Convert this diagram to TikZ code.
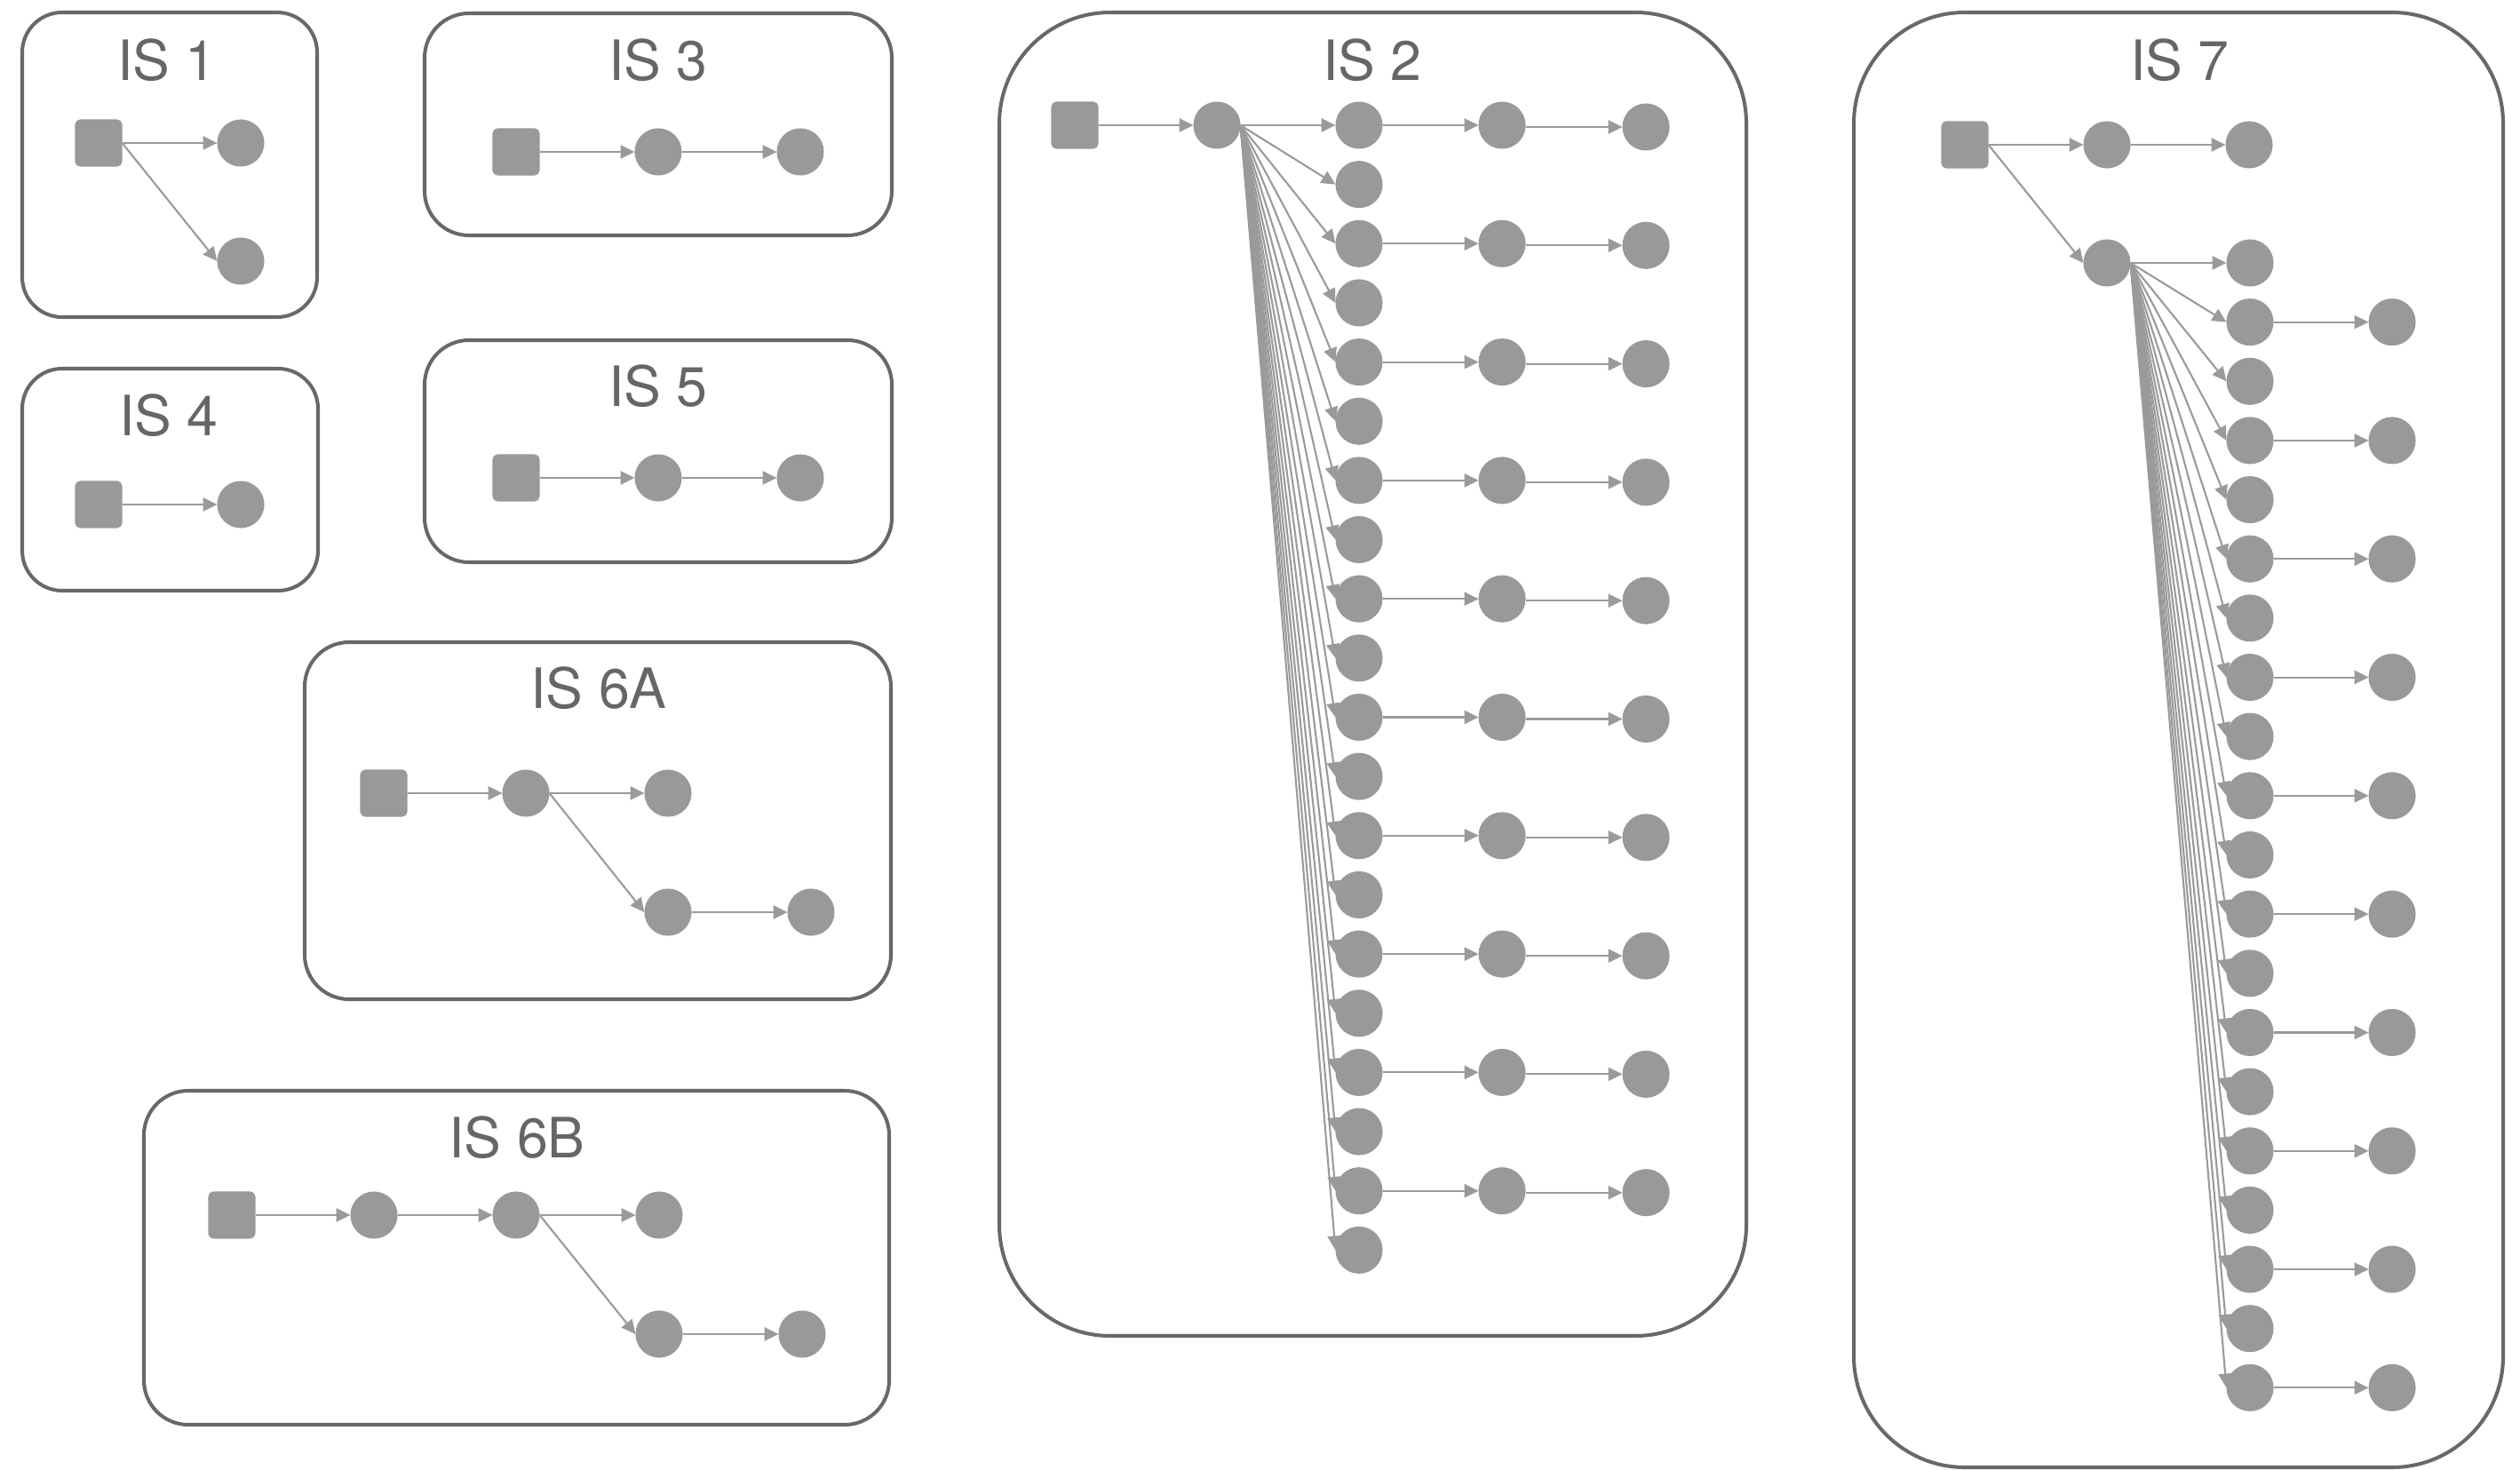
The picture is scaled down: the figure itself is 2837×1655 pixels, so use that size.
\documentclass[tikz,border=0pt]{standalone}
\usepackage{fontspec}
\setmainfont{TeX Gyre Heros}
\usetikzlibrary{arrows.meta}
\definecolor{framegray}{HTML}{686868}
\definecolor{textgray}{HTML}{666666}
\definecolor{nodegray}{HTML}{999999}
\definecolor{linkgray}{HTML}{9A9A9A}
\begin{document}
\begin{tikzpicture}[x=0.01cm,y=-0.01cm,
  groupframe/.style={draw=framegray, line width=1.15pt},
  grouptitle/.style={text=textgray, inner sep=0pt, font=\fontsize{17.8}{20}\selectfont},
  dot/.style={circle, fill=nodegray, inner sep=0pt, outer sep=0pt, minimum size=15.1pt},
  srcbox/.style={rectangle, rounded corners=1.6pt, fill=nodegray, inner sep=0pt, outer sep=0pt, minimum size=15.1pt},
  link/.style={draw=linkgray, line width=0.6pt, -{Triangle[length=4.5pt,width=4.3pt]}}]
\useasboundingbox (0,0) rectangle (2837,1655);

% ---------- group frames ----------
\draw[groupframe, rounded corners=0.45cm] (25,14) rectangle (357,357);
\draw[groupframe, rounded corners=0.5cm] (478,15) rectangle (1004,265);
\draw[groupframe, rounded corners=0.45cm] (25,415) rectangle (358,665);
\draw[groupframe, rounded corners=0.5cm] (478,383) rectangle (1004,633);
\draw[groupframe, rounded corners=0.5cm] (343,723) rectangle (1003,1125);
\draw[groupframe, rounded corners=0.5cm] (162,1228) rectangle (1001,1604);
\draw[groupframe, rounded corners=1.25cm] (1125,14) rectangle (1966,1504);
\draw[groupframe, rounded corners=1.25cm] (2087,14) rectangle (2818,1652);

% ---------- titles ----------
\node[grouptitle] (t1) at (188,68) {IS 1};
\node[grouptitle] (t3) at (741,68) {IS 3};
\node[grouptitle] (t4) at (190,468) {IS 4};
\node[grouptitle] (t5) at (741,435) {IS 5};
\node[grouptitle] (t6a) at (674,775) {IS 6A};
\node[grouptitle] (t6b) at (582,1281) {IS 6B};
\node[grouptitle] (t2) at (1545,68) {IS 2};
\node[grouptitle] (t7) at (2454,68) {IS 7};

% ---------- IS 1 ----------
\node[srcbox] (a1s) at (111,161) {};
\node[dot] (a1p) at (271,161) {};
\node[dot] (a1q) at (271,294) {};
\draw[link] (a1s.east) -- (a1p.west);
\draw[link] (a1s.east) -- (a1q.west);

% ---------- IS 3 ----------
\node[srcbox] (a3s) at (581,171) {};
\node[dot] (a3p) at (741,171) {};
\node[dot] (a3q) at (901,171) {};
\draw[link] (a3s.east) -- (a3p.west);
\draw[link] (a3p.east) -- (a3q.west);

% ---------- IS 4 ----------
\node[srcbox] (a4s) at (111,568) {};
\node[dot] (a4p) at (271,568) {};
\draw[link] (a4s.east) -- (a4p.west);

% ---------- IS 5 ----------
\node[srcbox] (a5s) at (581,538) {};
\node[dot] (a5p) at (741,538) {};
\node[dot] (a5q) at (901,538) {};
\draw[link] (a5s.east) -- (a5p.west);
\draw[link] (a5p.east) -- (a5q.west);

% ---------- IS 6A ----------
\node[srcbox] (a6s) at (432,893) {};
\node[dot] (a6p) at (592,893) {};
\node[dot] (a6q) at (752,893) {};
\node[dot] (a6r) at (752,1027) {};
\node[dot] (a6t) at (913,1027) {};
\draw[link] (a6s.east) -- (a6p.west);
\draw[link] (a6p.east) -- (a6q.west);
\draw[link] (a6p.east) -- (a6r.west);
\draw[link] (a6r.east) -- (a6t.west);

% ---------- IS 6B ----------
\node[srcbox] (b6s) at (261,1368) {};
\node[dot] (b6p) at (421,1368) {};
\node[dot] (b6q) at (581,1368) {};
\node[dot] (b6r) at (742,1368) {};
\node[dot] (b6t) at (742,1502) {};
\node[dot] (b6u) at (903,1502) {};
\draw[link] (b6s.east) -- (b6p.west);
\draw[link] (b6p.east) -- (b6q.west);
\draw[link] (b6q.east) -- (b6r.west);
\draw[link] (b6q.east) -- (b6t.west);
\draw[link] (b6t.east) -- (b6u.west);

% ---------- IS 2 ----------
\node[srcbox] (a2s) at (1210,141) {};
\node[dot] (a2h) at (1370,141) {};
\draw[link] (a2s.east) -- (a2h.west);
\foreach \k in {0,...,19}{
  \pgfmathsetmacro\yy{141+66.65*\k}
  \node[dot] (a2r\k) at (1530,\yy) {};
  \draw[link] (a2h.east) -- (a2r\k.west);
}
\foreach \k in {0,2,...,18}{
  \pgfmathsetmacro\yy{141+66.65*\k}
  \pgfmathsetmacro\yz{143+66.65*\k}
  \node[dot] (a2x\k) at (1691,\yy) {};
  \node[dot] (a2y\k) at (1853,\yz) {};
  \draw[link] (a2r\k.east) -- (a2x\k.west);
  \draw[link] (a2x\k.east |- a2y\k.west) -- (a2y\k.west);
}

% ---------- IS 7 ----------
\node[srcbox] (a7s) at (2212,163) {};
\node[dot] (a7h) at (2372,163) {};
\node[dot] (a7i) at (2532,163) {};
\node[dot] (a7g) at (2372,296) {};
\draw[link] (a7s.east) -- (a7h.west);
\draw[link] (a7h.east) -- (a7i.west);
\draw[link] (a7s.east) -- (a7g.west);
\foreach \k in {0,...,19}{
  \pgfmathsetmacro\yy{296+66.65*\k}
  \node[dot] (a7r\k) at (2533,\yy) {};
  \draw[link] (a7g.east) -- (a7r\k.west);
}
\foreach \k in {1,3,...,19}{
  \pgfmathsetmacro\yy{296+66.65*\k}
  \node[dot] (a7x\k) at (2693,\yy) {};
  \draw[link] (a7r\k.east) -- (a7x\k.west);
}
\end{tikzpicture}
\end{document}
